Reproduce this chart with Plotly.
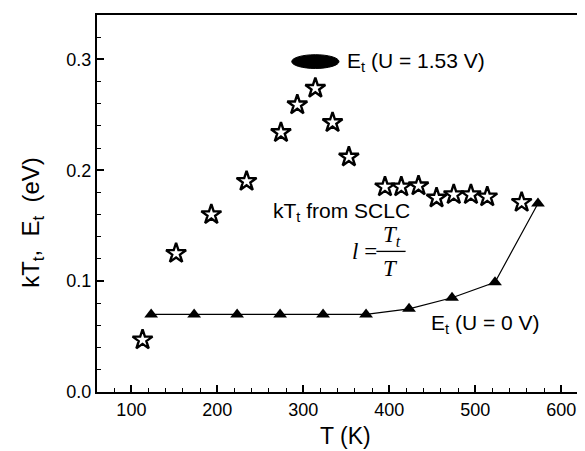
import plotly.graph_objects as go

# ---- data ----
kt_T = [113, 152, 193, 234, 274, 293, 314, 334, 353, 395, 414, 434, 455, 475, 495, 514, 554]
kt_E = [0.047, 0.125, 0.160, 0.190, 0.234, 0.259, 0.274, 0.243, 0.212,
        0.185, 0.185, 0.186, 0.175, 0.178, 0.178, 0.176, 0.171]

et0_T = [123, 173, 223, 273, 323, 373, 423, 473, 523, 573]
et0_E = [0.070, 0.070, 0.070, 0.070, 0.070, 0.070, 0.075, 0.085, 0.099, 0.170]

et153_T = [314]
et153_E = [0.298]

x_ticks = [100, 200, 300, 400, 500, 600]
y_ticks = [0.0, 0.1, 0.2, 0.3]
y_tick_labels = ["0.0", "0.1", "0.2", "0.3"]

FONT = "Liberation Sans"
SERIF = "Liberation Serif"

fig = go.Figure()

fig.add_trace(go.Scatter(
    x=kt_T, y=kt_E, mode="markers",
    marker=dict(symbol="star-open", size=15, color="black",
                line=dict(width=2.4, color="black")),
    showlegend=False, cliponaxis=False))

fig.add_trace(go.Scatter(
    x=et0_T, y=et0_E, mode="lines+markers",
    line=dict(color="black", width=1.2),
    marker=dict(symbol="triangle-up", size=12, color="black"),
    showlegend=False, cliponaxis=False))

# filled ellipse symbol for E_t (U = 1.53 V)
for t, e in zip(et153_T, et153_E):
    fig.add_shape(type="circle", xref="x", yref="y",
                  x0=t - 27.5, x1=t + 27.5, y0=e - 0.0062, y1=e + 0.0062,
                  fillcolor="black", line=dict(color="black", width=1))

ann_font = dict(family=FONT, size=21, color="black")
fig.add_annotation(x=349, y=0.298, xref="x", yref="y", xanchor="left", yanchor="middle",
                   text="E<sub>t</sub> (U = 1.53 V)", showarrow=False, font=ann_font)
fig.add_annotation(x=262, y=0.162, xref="x", yref="y", xanchor="left", yanchor="middle",
                   text="kT<sub>t</sub> from SCLC", showarrow=False, font=ann_font)
fig.add_annotation(x=446, y=0.061, xref="x", yref="y", xanchor="left", yanchor="middle",
                   text="E<sub>t</sub> (U = 0 V)", showarrow=False, font=ann_font)

# formula l = T_t / T
ser_font = dict(family=SERIF, size=23, color="black")
fig.add_annotation(x=354, y=0.127, xref="x", yref="y", xanchor="left", yanchor="middle",
                   text="<i>l</i> =", showarrow=False, font=ser_font)
fig.add_annotation(x=403, y=0.141, xref="x", yref="y", xanchor="center", yanchor="middle",
                   text="<i>T<sub>t</sub></i>", showarrow=False, font=ser_font)
fig.add_annotation(x=402, y=0.111, xref="x", yref="y", xanchor="center", yanchor="middle",
                   text="<i>T</i>", showarrow=False, font=ser_font)
fig.add_shape(type="line", xref="x", yref="y", x0=385, x1=419, y0=0.1268, y1=0.1268,
              line=dict(color="black", width=1.3))

# axis titles
fig.add_annotation(x=-0.13, y=0.45, xref="paper", yref="paper", textangle=-90,
                   text="kT<sub>t</sub>,  E<sub>t</sub>  (eV)", showarrow=False,
                   xanchor="center", yanchor="middle",
                   font=dict(family=FONT, size=24, color="black"))
fig.add_annotation(x=0.5, y=-0.117, xref="paper", yref="paper",
                   text="T (K)", showarrow=False, xanchor="center", yanchor="middle",
                   font=dict(family=FONT, size=23, color="black"))

fig.update_layout(
    width=585, height=451,
    margin=dict(l=89, r=0, t=7, b=67),
    paper_bgcolor="white", plot_bgcolor="white",
    font=dict(family=FONT, color="black"),
    xaxis=dict(range=[60, 637], tickvals=x_ticks, ticks="inside", ticklen=7,
               tickwidth=1.5, tickcolor="black", showline=True, linewidth=2,
               linecolor="black", mirror=True, showgrid=False, zeroline=False,
               tickfont=dict(family=FONT, size=18, color="black"),
               minor=dict(dtick=20, tick0=0, ticks="inside", ticklen=4,
                          tickcolor="black", tickwidth=1.2, showgrid=False)),
    yaxis=dict(range=[0, 0.34], tickvals=y_ticks, ticktext=y_tick_labels,
               ticks="inside", ticklen=7, tickwidth=1.5, tickcolor="black",
               showline=True, linewidth=2, linecolor="black", showgrid=False,
               zeroline=False,
               tickfont=dict(family=FONT, size=18, color="black"),
               minor=dict(dtick=0.02, tick0=0, ticks="inside", ticklen=4,
                          tickcolor="black", tickwidth=1.2, showgrid=False)),
)

fig.write_html("out.html")
